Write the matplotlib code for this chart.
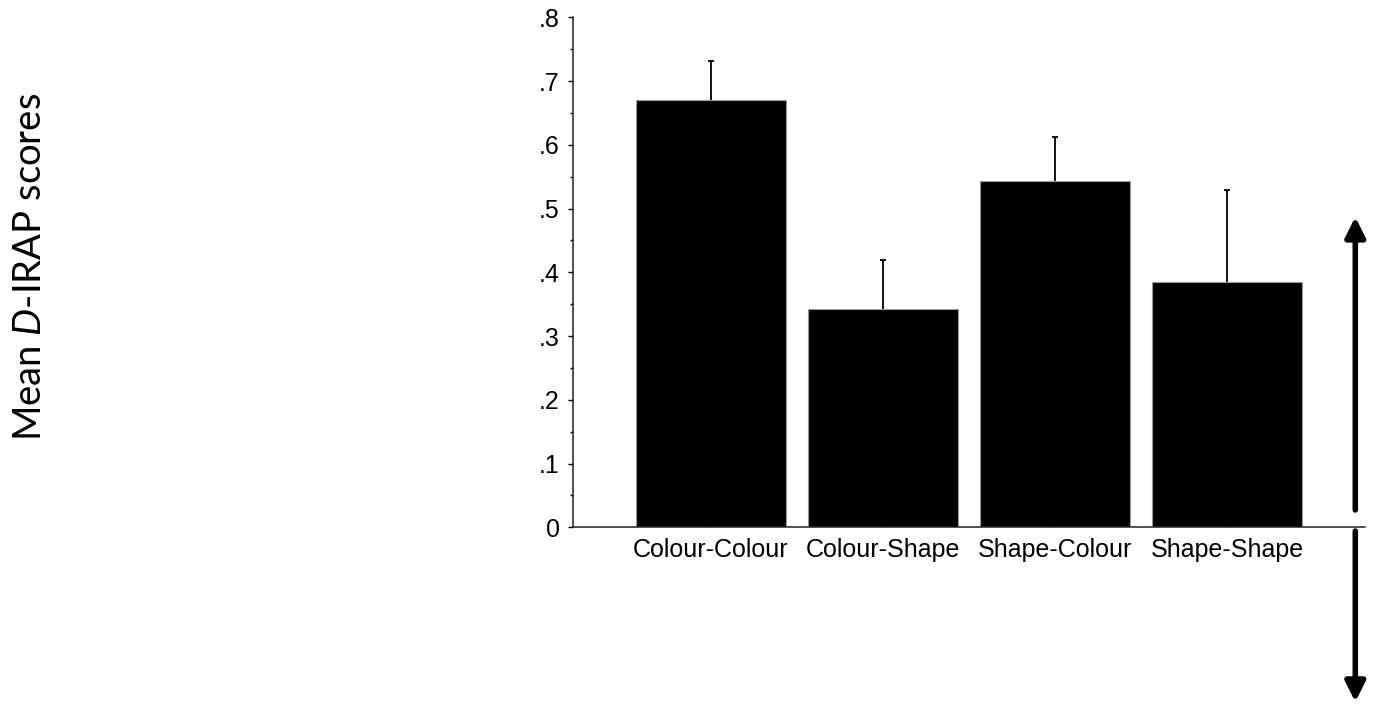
import matplotlib
matplotlib.use('Agg')
import matplotlib.pyplot as plt
from matplotlib.patches import FancyArrowPatch
from matplotlib.ticker import MultipleLocator, FuncFormatter

# mean D-IRAP score per trial type, with upper error bar lengths
trial_types = ['Colour-Colour', 'Colour-Shape', 'Shape-Colour', 'Shape-Shape']
means = [0.670, 0.343, 0.543, 0.384]
errors = [0.061, 0.077, 0.070, 0.145]

plt.rcParams['font.family'] = ['Liberation Sans', 'DejaVu Sans']
plt.rcParams['mathtext.fontset'] = 'custom'
plt.rcParams['mathtext.rm'] = 'Lato'
plt.rcParams['mathtext.it'] = 'Lato:italic'

fig = plt.figure(figsize=(13.73, 7.09), dpi=100)
ax = fig.add_axes([0.4173, 0.2563, 0.5769, 0.7193])

x = list(range(len(trial_types)))
tops = [m + e for m, e in zip(means, errors)]
ax.bar(x, means, width=0.87, color='black', edgecolor='#9a9a9a', linewidth=0.8, zorder=2)
# upper half of the error bars only
ax.vlines(x, means, tops, color='black', linewidth=1.3, zorder=1)
ax.plot(x, tops, linestyle='none', marker='_', markersize=5, markeredgewidth=1.3,
        color='black', zorder=1)

ax.set_xlim(-0.8, 3.8)
ax.set_ylim(0, 0.8)
ax.yaxis.set_major_locator(MultipleLocator(0.1))
ax.yaxis.set_minor_locator(MultipleLocator(0.05))
ax.yaxis.set_major_formatter(FuncFormatter(
    lambda v, p: '0' if abs(v) < 1e-9 else ('%.1f' % v).lstrip('0')))
ax.set_xticks(x)
ax.set_xticklabels(trial_types)

for side in ['top', 'right']:
    ax.spines[side].set_visible(False)
for side in ['left', 'bottom']:
    ax.spines[side].set_linewidth(1.1)
    ax.spines[side].set_color('#222222')

ax.tick_params(axis='y', which='major', direction='out', length=3.5, width=1.0,
               labelsize=18, pad=6)
ax.tick_params(axis='y', which='minor', direction='out', length=2, width=1.0)
ax.tick_params(axis='x', direction='in', length=3, width=0.8, color='#888888',
               labelsize=18, pad=8)

fig.text(0.022, 0.623, 'Mean $\\mathit{D}$-IRAP scores', rotation=90,
         ha='center', va='center', fontsize=27.5, family='Lato')

# double arrow on the right: positive above zero, negative below
up = FancyArrowPatch((0.9871, 0.2807), (0.9871, 0.694), transform=fig.transFigure,
                     arrowstyle='-|>,head_length=0.6,head_width=0.3', mutation_scale=20,
                     lw=4, color='black', shrinkA=0, shrinkB=0)
down = FancyArrowPatch((0.9871, 0.251), (0.9871, 0.01), transform=fig.transFigure,
                       arrowstyle='-|>,head_length=0.6,head_width=0.3', mutation_scale=20,
                       lw=4, color='black', shrinkA=0, shrinkB=0)
fig.patches.extend([up, down])

fig.savefig('out.png', dpi=100)
